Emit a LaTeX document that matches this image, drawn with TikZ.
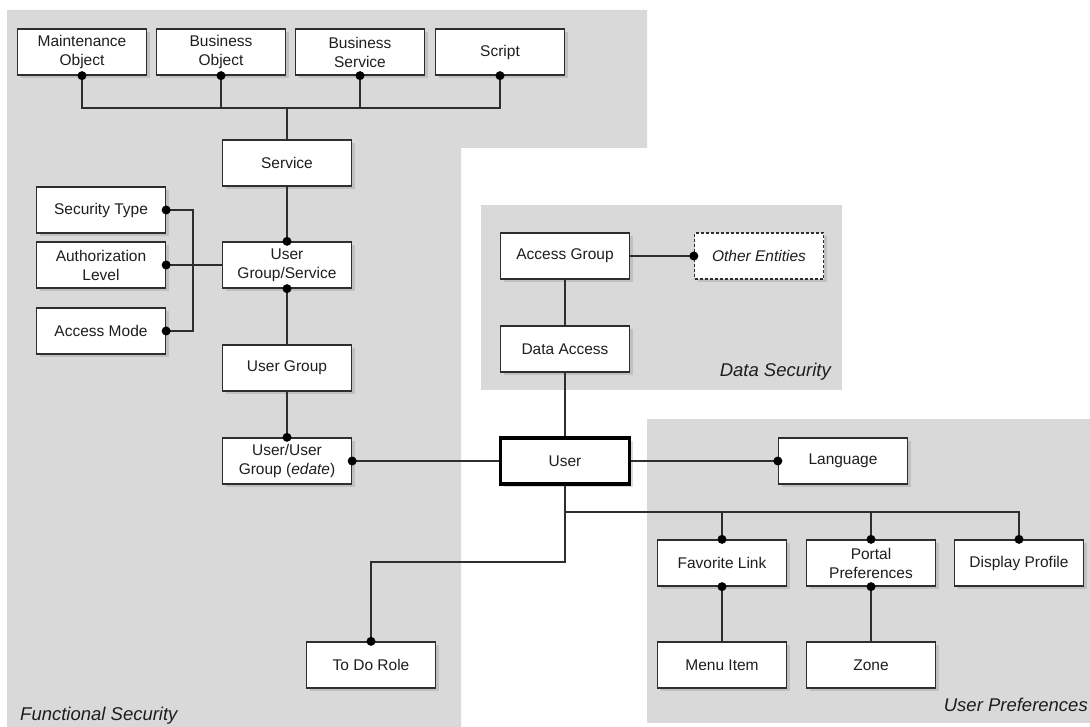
\documentclass[tikz,border=0pt]{standalone}
\usepackage{fontspec}
\setmainfont{Liberation Sans}
\usetikzlibrary{shadows}
\definecolor{regiongray}{HTML}{D9D9D9}
\definecolor{linegray}{HTML}{2E2E2E}
\definecolor{txtgray}{HTML}{1E1E1E}
\begin{document}
\begin{tikzpicture}[x=1pt,y=-1pt,
  box/.style={draw=linegray, line width=1.3pt, fill=white, minimum width=129pt, minimum height=46pt,
    inner sep=0pt, align=center, text=txtgray, font=\fontsize{15.5}{19}\selectfont,
    drop shadow={shadow xshift=3pt, shadow yshift=-3pt, opacity=0.28}},
  userbox/.style={box, draw=black, line width=3.8pt},
  otherbox/.style={box, dashed, dash pattern=on 3pt off 2pt},
  conn/.style={draw=linegray, line width=1.3pt},
  region/.style={fill=regiongray, draw=none},
  regionlabel/.style={font=\fontsize{18.5}{21}\selectfont\itshape, text=txtgray, inner sep=0pt}]
\useasboundingbox (0,0) rectangle (1090,727);
\fill[white] (0,0) rectangle (1090,727);
% regions
\path[region] (7,10) -- (647,10) -- (647,148) -- (461,148) -- (461,727) -- (7,727) -- cycle;
\path[region] (481,205) rectangle (842,390);
\path[region] (647,419) rectangle (1090,723);
\node[regionlabel, anchor=west] (fslabel) at (20,716) {Functional Security};
\node[regionlabel, anchor=east] (dslabel) at (831,372) {Data Security};
\node[regionlabel, anchor=east] (uplabel) at (1088,705) {User Preferences};
% nodes
\node[box] (mo) at (82,52) {Maintenance\\Object};
\node[box] (bo) at (221,52) {Business\\Object};
\node[box] (bs) at (360,52) {Business\\Service};
\node[box] (sc) at (500,52) {Script};
\node[box] (sv) at (287,163) {Service};
\node[box] (st) at (101,210) {Security Type};
\node[box] (al) at (101,265) {Authorization\\Level};
\node[box] (am) at (101,331) {Access Mode};
\node[box] (ugs) at (287,265) {User\\Group/Service};
\node[box] (ug) at (287,368) {User Group};
\node[box] (uug) at (287,461) {User/User\\Group (\textit{edate})};
\node[box] (td) at (371,665) {To Do Role};
\node[box] (ag) at (565,256) {Access Group};
\node[otherbox] (oe) at (759,256) {\textit{Other Entities}};
\node[box] (da) at (565,349) {Data Access};
\node[userbox] (us) at (565,461) {User};
\node[box] (la) at (843,461) {Language};
\node[box] (fl) at (722,563) {Favorite Link};
\node[box] (pp) at (871,563) {Portal\\Preferences};
\node[box] (dp) at (1019,563) {Display Profile};
\node[box] (mi) at (722,665) {Menu Item};
\node[box] (zo) at (871,665) {Zone};
% junction coordinates
\coordinate (topbus) at (287,108);
\coordinate (secbr) at (193,265);
\coordinate (prefbus) at (565,512);
\coordinate (todobend) at (371,562);
% connectors
\draw[conn] (mo.south) |- (topbus) -| (sc.south);
\draw[conn] (bo.south) -- (bo.south |- topbus);
\draw[conn] (bs.south) -- (bs.south |- topbus);
\draw[conn] (topbus) -- (sv.north);
\draw[conn] (sv.south) -- (ugs.north);
\draw[conn] (st.east) -| (secbr);
\draw[conn] (am.east) -| (secbr);
\draw[conn] (al.east) -- (ugs.west);
\draw[conn] (ugs.south) -- (ug.north);
\draw[conn] (ug.south) -- (uug.north);
\draw[conn] (uug.east) -- (us.west);
\draw[conn] (ag.east) -- (oe.west);
\draw[conn] (ag.south) -- (da.north);
\draw[conn] (da.south) -- (us.north);
\draw[conn] (us.east) -- (la.west);
\draw[conn] (us.south) -- (prefbus) -| (dp.north);
\draw[conn] (fl.north) -- (fl.north |- prefbus);
\draw[conn] (pp.north) -- (pp.north |- prefbus);
\draw[conn] (prefbus) |- (todobend) -- (td.north);
\draw[conn] (fl.south) -- (mi.north);
\draw[conn] (pp.south) -- (zo.north);
% end dots
\foreach \p in {mo.south, bo.south, bs.south, sc.south, ugs.north, ugs.south, uug.north, uug.east,
  st.east, al.east, am.east, oe.west, la.west, fl.north, pp.north, dp.north, fl.south, pp.south, td.north}
  \fill[black] (\p) circle (4.5);
\end{tikzpicture}
\end{document}
